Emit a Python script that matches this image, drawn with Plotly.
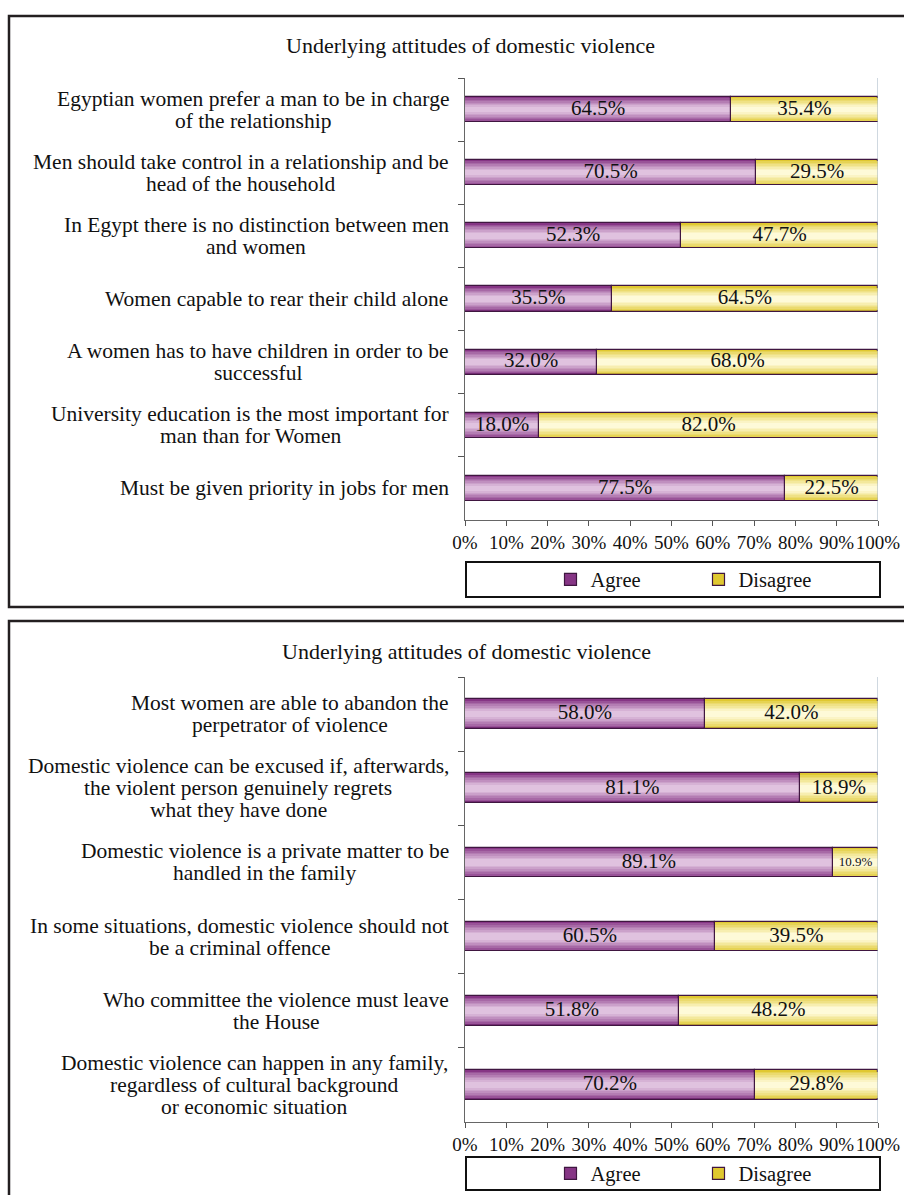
import plotly.graph_objects as go

W, H = 904, 1195
FONT = "Liberation Serif"

title_text = "Underlying attitudes of domestic violence"

top_categories = [
    "Egyptian women prefer a man to be in charge|of the relationship",
    "Men should take control in a relationship and be|head of the household",
    "In Egypt there is no distinction between men|and women",
    "Women capable to rear their child alone",
    "A women has to have children in order to be|successful",
    "University education is the most important for|man than for Women",
    "Must be given priority in jobs for men",
]
top_agree = [64.5, 70.5, 52.3, 35.5, 32.0, 18.0, 77.5]
top_disagree = [35.4, 29.5, 47.7, 64.5, 68.0, 82.0, 22.5]

bottom_categories = [
    "Most women are able to abandon the|perpetrator of violence",
    "Domestic violence can be excused if, afterwards,|the violent person genuinely regrets|what they have done",
    "Domestic violence is a private matter to be|handled in the family",
    "In some situations, domestic violence should not|be a criminal offence",
    "Who committee the violence must leave|the House",
    "Domestic violence can happen in any family,|regardless of cultural background|or economic situation",
]
bottom_agree = [58.0, 81.1, 89.1, 60.5, 51.8, 70.2]
bottom_disagree = [42.0, 18.9, 10.9, 39.5, 48.2, 29.8]

x_ticks = list(range(0, 101, 10))
x_ticklabels = [f"{t}%" for t in x_ticks]

series_names = ["Agree", "Disagree"]
# edge -> centre colours of the shaded bars
agree_edge, agree_centre = (0x86, 0x35, 0x85), (0xe0, 0xc2, 0xdf)
dis_edge, dis_centre = (0xe0, 0xc8, 0x30), (0xfe, 0xfa, 0xd8)
N_LAYERS = 8
BAR_W = 0.4
LABEL_SIZE = 21.5
LINE_GAP = 22


def blend(c0, c1, t):
    return "#%02x%02x%02x" % tuple(round(a + (b - a) * t) for a, b in zip(c0, c1))


layer_frac = [1.0 - 0.78 * i / (N_LAYERS - 1) for i in range(N_LAYERS)]
agree_layers = [blend(agree_edge, agree_centre, (i / (N_LAYERS - 1)) ** 0.8) for i in range(N_LAYERS)]
disagree_layers = [blend(dis_edge, dis_centre, (i / (N_LAYERS - 1)) ** 0.8) for i in range(N_LAYERS)]

# Times / Liberation Serif advance widths (per 1000 em)
_TW = {' ': 250, ',': 250, '.': 250, '%': 833, '-': 333}
_TW.update({c: 500 for c in "0123456789"})
_TW.update(dict(zip("ABCDEFGHIJKLMNOPQRSTUVWXYZ",
                    [722, 667, 667, 722, 611, 556, 722, 722, 333, 389, 722, 611, 889,
                     722, 722, 556, 722, 667, 556, 611, 722, 722, 944, 722, 722, 611])))
_TW.update(dict(zip("abcdefghijklmnopqrstuvwxyz",
                    [444, 500, 444, 500, 444, 333, 500, 500, 278, 278, 500, 278, 778,
                     500, 500, 500, 500, 333, 389, 278, 500, 500, 722, 500, 500, 444])))


def text_w(s, size):
    return sum(_TW.get(ch, 500) for ch in s) * size / 1000.0


fig = go.Figure()


def add_panel(cats, agree, disagree, xa, ya, legend_name):
    bases = [[0] * len(agree), agree]
    vals = [agree, disagree]
    layer_sets = [agree_layers, disagree_layers]
    for s in range(2):
        for li, (frac, col) in enumerate(zip(layer_frac, layer_sets[s])):
            fig.add_trace(go.Bar(
                y=cats, x=vals[s], base=bases[s], orientation="h",
                width=BAR_W * frac,
                marker=dict(color=col,
                            line=dict(color="#3f1640" if li == 0 else col,
                                      width=1.2 if li == 0 else 0)),
                name=series_names[s], showlegend=(li == 0),
                legend=legend_name, legendgroup=legend_name + series_names[s],
                xaxis=xa, yaxis=ya, hoverinfo="skip",
            ))
    # value labels centred in each segment
    for s in range(2):
        fig.add_trace(go.Scatter(
            y=cats, x=[b + v / 2 for b, v in zip(bases[s], vals[s])],
            mode="text", text=[f"{v:.1f}%" for v in vals[s]],
            textposition="middle center",
            textfont=dict(family=FONT, color="#111",
                          size=[21 if v >= 15 else 13 for v in vals[s]]),
            showlegend=False, xaxis=xa, yaxis=ya, hoverinfo="skip",
            cliponaxis=False,
        ))


add_panel(top_categories, top_agree, top_disagree, "x", "y", "legend")
add_panel(bottom_categories, bottom_agree, bottom_disagree, "x2", "y2", "legend2")

xdom = [465 / W, 878 / W]
top_ydom = [1 - 520 / H, 1 - 78 / H]
bot_ydom = [1 - 1122 / H, 1 - 677 / H]

xaxis_common = dict(
    range=[0, 100], tickvals=x_ticks, ticktext=x_ticklabels, tickangle=0,
    ticks="outside", ticklen=5, tickcolor="#555", showgrid=False,
    zeroline=False, showline=True, linecolor="#666", linewidth=1,
    tickfont=dict(family=FONT, size=19, color="#111"), domain=xdom,
    fixedrange=True, automargin=False,
)
yaxis_common = dict(
    type="category", autorange="reversed", tickson="boundaries",
    ticks="outside", ticklen=6, tickcolor="#555", showticklabels=False,
    showgrid=False, showline=True, linecolor="#666", linewidth=1,
    fixedrange=True, automargin=False,
)

annotations = []
shapes = []
RIGHT_X = 449
for cats, yref in [(top_categories, "y"), (bottom_categories, "y2")]:
    for c in cats:
        lines = c.split("|")
        maxw = max(text_w(l, LABEL_SIZE) for l in lines)
        n = len(lines)
        for i, l in enumerate(lines):
            annotations.append(dict(
                x=RIGHT_X / W, xref="paper", y=c, yref=yref, text=l, showarrow=False,
                xanchor="center", yanchor="middle", align="center",
                xshift=-maxw / 2, yshift=((n - 1) / 2 - i) * LINE_GAP,
                font=dict(family=FONT, size=LABEL_SIZE, color="#111"),
            ))
annotations.append(dict(x=470 / W, y=1 - 46 / H, xref="paper", yref="paper",
                        text=title_text, showarrow=False, xanchor="center",
                        yanchor="middle", font=dict(family=FONT, size=22, color="#111")))
annotations.append(dict(x=466 / W, y=1 - 651 / H, xref="paper", yref="paper",
                        text=title_text, showarrow=False, xanchor="center",
                        yanchor="middle", font=dict(family=FONT, size=22, color="#111")))

# panel frames
shapes.append(dict(type="rect", xref="paper", yref="paper", x0=9 / W, x1=1.02,
                   y0=1 - 607 / H, y1=1 - 16 / H, line=dict(color="#231f20", width=2.5)))
shapes.append(dict(type="rect", xref="paper", yref="paper", x0=9 / W, x1=1.02,
                   y0=-0.02, y1=1 - 621 / H, line=dict(color="#231f20", width=2.5)))
# right border line of plot areas
for xr, yr in [("x", "y"), ("x2", "y2")]:
    shapes.append(dict(type="line", xref=xr, yref=yr + " domain", x0=100, x1=100,
                       y0=0, y1=1, line=dict(color="#9fb0c0", width=1)))
# legend frames
shapes.append(dict(type="rect", xref="paper", yref="paper", x0=466 / W, x1=880 / W,
                   y0=1 - 597 / H, y1=1 - 562 / H, line=dict(color="#111", width=2)))
shapes.append(dict(type="rect", xref="paper", yref="paper", x0=466 / W, x1=880 / W,
                   y0=1 - 1190 / H, y1=1 - 1157 / H, line=dict(color="#111", width=2)))

legend_common = dict(orientation="h", xanchor="center", yanchor="middle",
                     bgcolor="rgba(0,0,0,0)", borderwidth=0,
                     font=dict(family=FONT, size=20.5, color="#111"),
                     entrywidth=103, itemclick=False, itemdoubleclick=False)

fig.update_layout(
    width=W, height=H, margin=dict(l=0, r=0, t=0, b=0, autoexpand=False),
    paper_bgcolor="white", plot_bgcolor="white",
    barmode="overlay", bargap=0,
    xaxis=dict(**xaxis_common, anchor="y"),
    yaxis=dict(**yaxis_common, domain=top_ydom, anchor="x"),
    xaxis2=dict(**xaxis_common, anchor="y2"),
    yaxis2=dict(**yaxis_common, domain=bot_ydom, anchor="x2"),
    legend=dict(**legend_common, x=698.5 / W, y=1 - 579.5 / H),
    legend2=dict(**legend_common, x=698.5 / W, y=1 - 1173.5 / H),
    annotations=annotations, shapes=shapes,
    font=dict(family=FONT, color="#111"),
)

fig.write_html("out.html")
